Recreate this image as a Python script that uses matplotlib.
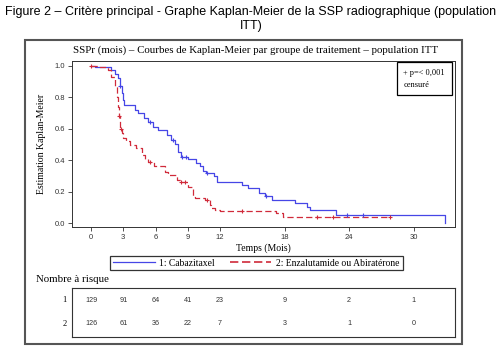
import numpy as np
import matplotlib.pyplot as plt
from matplotlib.patches import Rectangle
from matplotlib.lines import Line2D

# Kaplan-Meier steps (months, survival)
t_cab = [0, 0.4, 1.9, 2.2, 2.5, 2.7, 2.85, 3.0, 3.1, 4.1, 4.4, 4.9, 5.3, 5.8, 6.2, 7.1, 7.4, 7.8, 8.1, 8.4,
         9.0, 9.8, 10.1, 10.4, 10.7, 11.4, 11.7, 14.0, 14.6, 15.6, 16.2, 16.8, 19.0, 20.1, 20.4, 22.8, 32.9]
s_cab = [1.0, 0.99, 0.97, 0.95, 0.92, 0.87, 0.825, 0.78, 0.75, 0.72, 0.70, 0.665, 0.644, 0.61, 0.59, 0.56,
         0.53, 0.50, 0.45, 0.42, 0.41, 0.38, 0.36, 0.33, 0.32, 0.30, 0.26, 0.24, 0.22, 0.19, 0.17, 0.146,
         0.125, 0.10, 0.083, 0.05, 0.0]
cens_cab = [2.7, 5.5, 7.6, 8.5, 8.8, 10.8, 16.3, 23.8, 25.3]

t_enz = [0, 0.65, 1.6, 1.9, 2.2, 2.4, 2.5, 2.6, 2.7, 2.85, 3.0, 3.3, 3.6, 4.2, 4.7, 5.0, 5.3, 5.9, 6.9, 7.2,
         8.0, 8.3, 9.0, 9.4, 9.5, 9.7, 10.6, 11.1, 11.2, 11.5, 12.0, 17.2, 17.9]
s_enz = [1.0, 0.99, 0.97, 0.93, 0.87, 0.80, 0.74, 0.68, 0.60, 0.57, 0.54, 0.52, 0.495, 0.475, 0.43, 0.41,
         0.39, 0.36, 0.326, 0.305, 0.273, 0.262, 0.23, 0.22, 0.167, 0.157, 0.146, 0.114, 0.093, 0.085,
         0.076, 0.062, 0.04]
enz_end = 27.8
cens_enz = [0, 2.6, 2.75, 5.5, 8.4, 8.7, 10.8, 14.0, 21.0, 22.5, 27.8]

xticks = [0, 3, 6, 9, 12, 18, 24, 30]
risk_cab = [129, 91, 64, 41, 23, 9, 2, 1]
risk_enz = [126, 61, 36, 22, 7, 3, 1, 0]

blue = '#4646e6'
red = '#d02a3a'
serif = 'Liberation Serif'
sans = 'Liberation Sans'


def surv_at(t, s, tc):
    i = np.searchsorted(t, tc, side='right') - 1
    return np.array(s)[i]


W, H = 502, 352
fig = plt.figure(figsize=(W / 100, H / 100), dpi=100)


def fx(px):
    return px / W


def fy(py):
    return 1 - py / H


fig.text(0.5, fy(12), "Figure 2 – Critère principal - Graphe Kaplan-Meier de la SSP radiographique (population",
         ha='center', va='center', fontsize=9, family=sans)
fig.text(0.5, fy(26), "ITT)", ha='center', va='center', fontsize=9, family=sans)

# outer frame
fig.patches.append(Rectangle((fx(25), fy(344)), fx(462) - fx(25), fy(40) - fy(344),
                             transform=fig.transFigure, fill=False, ec='#555555', lw=1.5))

fig.text(fx(73), fy(50), "SSPr (mois) – Courbes de Kaplan-Meier par groupe de traitement – population ITT",
         ha='left', va='center', fontsize=7.8, family=serif)

ax = fig.add_axes([fx(72), fy(227), fx(455) - fx(72), fy(61) - fy(227)])
ax.step(t_cab, s_cab, where='post', color=blue, lw=0.9)
ax.step(t_enz + [enz_end], s_enz + [s_enz[-1]], where='post', color=red, lw=0.9, dashes=(5, 2.5))
ax.plot(cens_cab, surv_at(t_cab, s_cab, cens_cab), '+', color=blue, ms=3.5, mew=0.8)
ax.plot(cens_enz, surv_at(t_enz, s_enz, cens_enz), '+', color=red, ms=3.5, mew=0.8)

ax.set_xlim(-1.77, 33.86)
ax.set_ylim(-0.025, 1.03)
ax.set_xticks(xticks)
ax.set_yticks(np.arange(0, 1.01, 0.2))
ax.set_yticklabels([f"{v:.1f}" for v in np.arange(0, 1.01, 0.2)])
ax.tick_params(labelsize=5.5, length=3, width=0.6, colors='#333333', pad=2)
for lab in ax.get_xticklabels() + ax.get_yticklabels():
    lab.set_family(sans)
for sp in ax.spines.values():
    sp.set_linewidth(0.7)
    sp.set_color('#333333')
ax.set_xlabel("Temps (Mois)", fontsize=7, family=serif, labelpad=2)
fig.text(fx(42), (fy(227) + fy(61)) / 2, "Estimation Kaplan-Meier", rotation=90,
         ha='center', va='center', fontsize=7, family=serif)

# censor legend box
ax.text(0.974, 0.952, "+ p=< 0,001\ncensuré", transform=ax.transAxes, ha='right', va='top',
        multialignment='left', fontsize=6, family=serif, linespacing=1.6,
        bbox=dict(boxstyle='square,pad=0.8', fc='white', ec='black', lw=0.9))

handles = [Line2D([], [], color=blue, lw=0.9),
           Line2D([], [], color=red, lw=1.2, dashes=(5, 2.2))]
leg = fig.legend(handles, ["1: Cabazitaxel", "2: Enzalutamide ou Abiratérone"], ncol=2,
                 loc='center', bbox_to_anchor=((fx(116) + fx(397)) / 2, fy(263)),
                 prop={'family': serif, 'size': 6.9}, frameon=True, fancybox=False,
                 handlelength=4.3, columnspacing=1.6, borderpad=0.3, handletextpad=0.5)
leg.get_frame().set_edgecolor('black')
leg.get_frame().set_linewidth(0.9)

fig.text(fx(36), fy(279), "Nombre à risque", ha='left', va='center', fontsize=7.8, family=serif)

rax = fig.add_axes([fx(72), fy(337), fx(455) - fx(72), fy(288) - fy(337)])
rax.set_xlim(ax.get_xlim())
rax.set_ylim(0, 1)
rax.set_xticks([])
rax.set_yticks([])
for sp in rax.spines.values():
    sp.set_linewidth(0.8)
    sp.set_color('#333333')
for x, a, b in zip(xticks, risk_cab, risk_enz):
    rax.text(x, 0.75, str(a), ha='center', va='center', fontsize=5.2, family=sans, color='#333333')
    rax.text(x, 0.27, str(b), ha='center', va='center', fontsize=5.2, family=sans, color='#333333')
fig.text(fx(67), fy(300), "1", ha='right', va='center', fontsize=6, family=serif)
fig.text(fx(67), fy(324), "2", ha='right', va='center', fontsize=6, family=serif)

fig.savefig("out.png", dpi=100)
